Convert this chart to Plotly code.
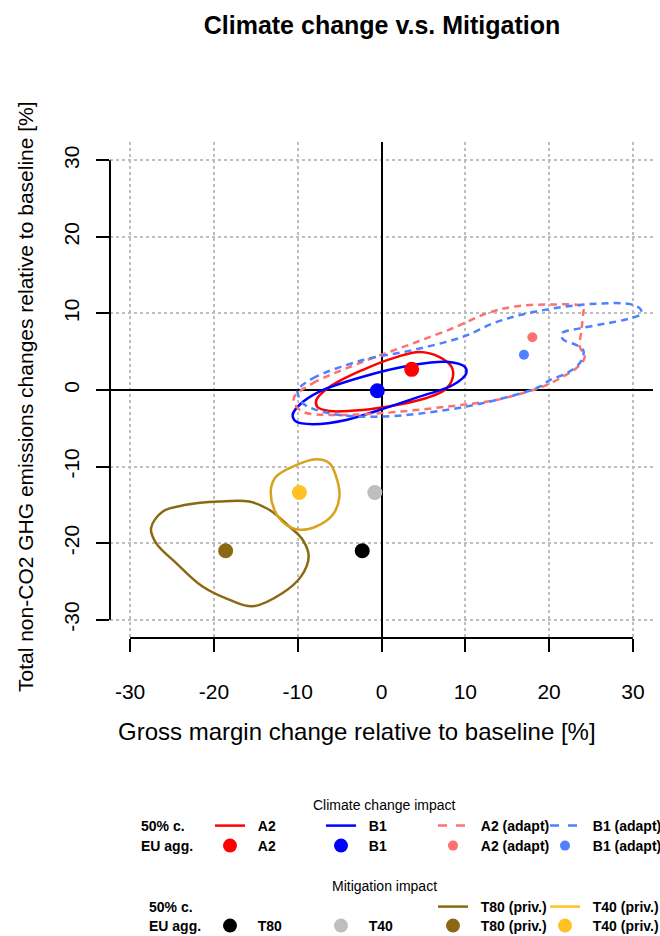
import plotly.graph_objects as go

# ---------------- data ----------------
# EU aggregate points
pt_names = ["A2", "B1", "A2 (adapt)", "B1 (adapt)", "T80", "T40", "T80 (priv.)", "T40 (priv.)"]
pt_x = [3.6, -0.5, 18.0, 17.0, -2.3, -0.8, -18.6, -9.8]
pt_y = [2.7, -0.1, 6.9, 4.6, -21.0, -13.4, -21.0, -13.4]

# 50% contours
a2_x = [-7.77, -6.21, -2.27, 1.79, 4.54, 6.93, 8.37, 8.49, 7.53, 5.38, 1.79, -2.27, -6.21, -7.65, -7.77]
a2_y = [-1.30, 0.39, 2.61, 4.30, 4.96, 4.30, 3.00, 1.57, 0.00, -1.04, -1.96, -2.61, -2.74, -2.22, -1.30]

b1_x = [-10.6, -9.8, -7.41, -2.23, 3.74, 7.73, 9.92, 10.12, 8.52, 4.54, -0.24, -4.22, -8.21, -10.2, -10.6]
b1_y = [-3.26, -1.96, -0.22, 1.73, 3.26, 3.69, 3.04, 2.18, 0.65, -0.87, -2.61, -3.91, -4.47, -4.13, -3.26]

a2a_x = [-10.4, -8.21, -2.23, 3.74, 8.93, 12.51, 15.69, 20.47, 24.06, 24.06, 23.87, 23.66, 24.26, 23.46,
         21.63, 19.24, 18.08, 13.71, 7.73, -0.24, -6.21, -9.41, -10.4, -10.4]
a2a_y = [-0.87, 0.87, 3.69, 6.09, 8.26, 10.0, 10.87, 11.18, 10.87, 10.0, 7.83, 5.65, 4.34, 3.04,
         1.73, 0.43, 0.0, -1.30, -2.18, -3.04, -3.26, -2.83, -1.73, -0.87]

b1a_x = [-10.0, -8.21, -2.23, 3.74, 9.72, 13.30, 16.49, 20.47, 24.86, 29.64, 30.84, 31.04, 29.64, 26.86,
         23.66, 21.48, 21.67, 23.27, 24.06, 24.06, 23.46, 22.07, 20.08, 18.88, 13.71, 7.73, -0.24,
         -6.21, -9.41, -10.0, -10.0]
b1a_y = [0.0, 1.52, 3.91, 5.22, 6.95, 8.70, 9.78, 10.65, 11.22, 11.22, 10.65, 10.0, 9.35, 8.70,
         8.05, 7.39, 6.61, 5.87, 5.22, 4.34, 3.26, 2.18, 1.30, 0.43, -1.30, -2.61, -3.48,
         -3.04, -1.73, -0.43, 0.0]

t80p_x = [-27.5, -26.1, -23.3, -19.4, -15.8, -13.4, -11.0, -9.41, -8.69, -9.60, -11.8, -15.4, -18.2,
          -21.4, -24.5, -26.9, -27.5]
t80p_y = [-18.04, -15.87, -15.0, -14.57, -14.57, -15.65, -17.83, -19.56, -21.74, -24.35, -26.52,
          -28.26, -27.39, -25.65, -22.61, -20.0, -18.04]

t40p_x = [-13.18, -12.58, -10.60, -7.80, -6.21, -5.41, -5.02, -5.82, -7.80, -9.80, -11.39, -12.79, -13.18]
t40p_y = [-12.82, -11.31, -10.0, -9.04, -9.56, -11.31, -13.92, -16.30, -17.83, -18.26, -17.61, -15.65, -12.82]

ticks = [-30, -20, -10, 0, 10, 20, 30]
tick_labels = [str(t) for t in ticks]

x_title = "Gross margin change relative to baseline [%]"
y_title = "Total non-CO2 GHG emissions changes relative to baseline [%]"
main_title = "Climate change v.s. Mitigation"

# ---------------- styles ----------------
RED, BLUE, LRED, LBLUE = "#FF0000", "#0000FF", "#FF7070", "#4F80FF"
BROWN, GOLD_LINE, GOLD_LEG, GOLD_PT, GREY = "#8B6914", "#D9A21E", "#FFC125", "#FFC125", "#BEBEBE"
FONT = "Liberation Sans, Arial, Helvetica, sans-serif"

L, R, T, B = 110, 7, 142, 298
W, H = 660, 936
pw, ph = W - L - R, H - T - B


def px2paper(px, py):
    return (px - L) / pw, (H - B - py) / ph


fig = go.Figure()

contours = [
    (a2_x, a2_y, RED, "solid"),
    (b1_x, b1_y, BLUE, "solid"),
    (a2a_x, a2a_y, LRED, "7px,5px"),
    (b1a_x, b1a_y, LBLUE, "7px,5px"),
    (t80p_x, t80p_y, BROWN, "solid"),
    (t40p_x, t40p_y, GOLD_LINE, "solid"),
]
for cx, cy, col, dash in contours:
    fig.add_trace(go.Scatter(x=cx, y=cy, mode="lines", showlegend=False, hoverinfo="skip",
                             line=dict(color=col, width=2.5, dash=dash, shape="spline", smoothing=1.0)))

pt_colors = [RED, BLUE, LRED, LBLUE, "#000000", GREY, BROWN, GOLD_PT]
pt_sizes = [15, 15, 10, 10, 15, 15, 15, 15]
for i in range(len(pt_names)):
    fig.add_trace(go.Scatter(x=[pt_x[i]], y=[pt_y[i]], mode="markers", showlegend=False,
                             marker=dict(color=pt_colors[i], size=pt_sizes[i], line=dict(width=0)),
                             name=pt_names[i]))

# ---------------- legend (one small legend per entry) ----------------
col_sym_x = [210, 321, 433, 545]       # left edge of each legend column's key (px)
row_y = [826, 846, 907, 926]           # legend rows (px)

# (name, kind, colour, dash/size, column, row)
leg_entries = [
    ("A2", "line", RED, "solid", 0, 0),
    ("B1", "line", BLUE, "solid", 1, 0),
    ("A2 (adapt)", "line", LRED, "dash", 2, 0),
    ("B1 (adapt)", "line", LBLUE, "dash", 3, 0),
    ("A2", "dot", RED, 14, 0, 1),
    ("B1", "dot", BLUE, 14, 1, 1),
    ("A2 (adapt)", "dot", LRED, 10, 2, 1),
    ("B1 (adapt)", "dot", LBLUE, 10, 3, 1),
    ("T80 (priv.)", "line", BROWN, "solid", 2, 2),
    ("T40 (priv.)", "line", GOLD_LEG, "solid", 3, 2),
    ("T80", "dot", "#000000", 14, 0, 3),
    ("T40", "dot", GREY, 14, 1, 3),
    ("T80 (priv.)", "dot", BROWN, 14, 2, 3),
    ("T40 (priv.)", "dot", GOLD_PT, 14, 3, 3),
]

leg_font = dict(family=FONT, size=14, color="black", weight="bold")
legend_layout = {}
PAD = "\u00a0\u00a0"
for k, (nm, kind, col, sty, ci, ri) in enumerate(leg_entries):
    lname = "legend" if k == 0 else f"legend{k + 1}"
    if kind == "line":
        tr = go.Scatter(x=[None], y=[None], mode="lines", name=PAD + nm, legend=lname,
                        line=dict(color=col, width=2.5, dash=sty))
    else:
        tr = go.Scatter(x=[None], y=[None], mode="markers", name=PAD + nm, legend=lname,
                        marker=dict(color=col, size=sty, line=dict(width=0)))
    fig.add_trace(tr)
    lx, ly = px2paper(col_sym_x[ci], row_y[ri])
    legend_layout[lname] = dict(orientation="v", x=lx, y=ly, xanchor="left", yanchor="middle",
                                xref="paper", yref="paper", bgcolor="rgba(0,0,0,0)", borderwidth=0,
                                font=leg_font, itemwidth=30, itemsizing="trace",
                                itemclick=False, itemdoubleclick=False)

axis_common = dict(range=[-32.4, 32.4], tickvals=ticks, ticktext=tick_labels, ticks="outside",
                   ticklen=13, tickwidth=2, tickcolor="black", showgrid=True, gridcolor=GREY,
                   griddash="dot", gridwidth=1.5, zeroline=True, zerolinecolor="black",
                   zerolinewidth=2, showline=False, automargin=False,
                   tickfont=dict(family=FONT, size=21, color="black"))

fig.update_layout(
    width=W, height=H, autosize=False,
    margin=dict(l=L, r=R, t=T, b=B, pad=0, autoexpand=False),
    paper_bgcolor="white", plot_bgcolor="white",
    font=dict(family=FONT, color="black"),
    title=dict(text=f"<b>{main_title}</b>", x=382 / W, xanchor="center",
               y=1 - 25 / H, yanchor="middle", font=dict(family=FONT, size=25, color="black")),
    xaxis=dict(axis_common, ticklabelstandoff=22),
    yaxis=dict(axis_common, tickangle=-90, ticklabelstandoff=9),
    shapes=[
        dict(type="line", xref="x", yref="paper", x0=-30, x1=30, y0=0, y1=0,
             line=dict(color="black", width=2), layer="above"),
        dict(type="line", xref="paper", yref="y", x0=0, x1=0, y0=-30, y1=30,
             line=dict(color="black", width=2), layer="above"),
    ],
    **legend_layout,
)

# axis titles
xt, yt = px2paper(357, 731)
fig.add_annotation(text=x_title, x=xt, y=yt, xref="paper", yref="paper", xanchor="center",
                   yanchor="middle", showarrow=False, font=dict(family=FONT, size=24, color="black"))
xt, yt = px2paper(25, 397)
fig.add_annotation(text=y_title, x=xt, y=yt, xref="paper", yref="paper", xanchor="center",
                   yanchor="middle", textangle=-90, showarrow=False,
                   font=dict(family=FONT, size=21, color="black"))

ann_font = dict(family=FONT, size=14, color="black")
labels = [
    ("Climate change impact", 384, 805, "center", False),
    ("50% c.", 139, 826, "left", True),
    ("EU agg.", 139, 846, "left", True),
    ("Mitigation impact", 384, 886, "center", False),
    ("50% c.", 147, 907, "left", True),
    ("EU agg.", 147, 926, "left", True),
]
for txt, px, py, anc, bold in labels:
    x, y = px2paper(px, py)
    fig.add_annotation(text=f"<b>{txt}</b>" if bold else txt, x=x, y=y, xref="paper", yref="paper",
                       xanchor=anc, yanchor="middle", showarrow=False, font=ann_font)

fig.write_html("out.html", config={"displayModeBar": False},
               post_script="document.body.style.margin='0px';")
